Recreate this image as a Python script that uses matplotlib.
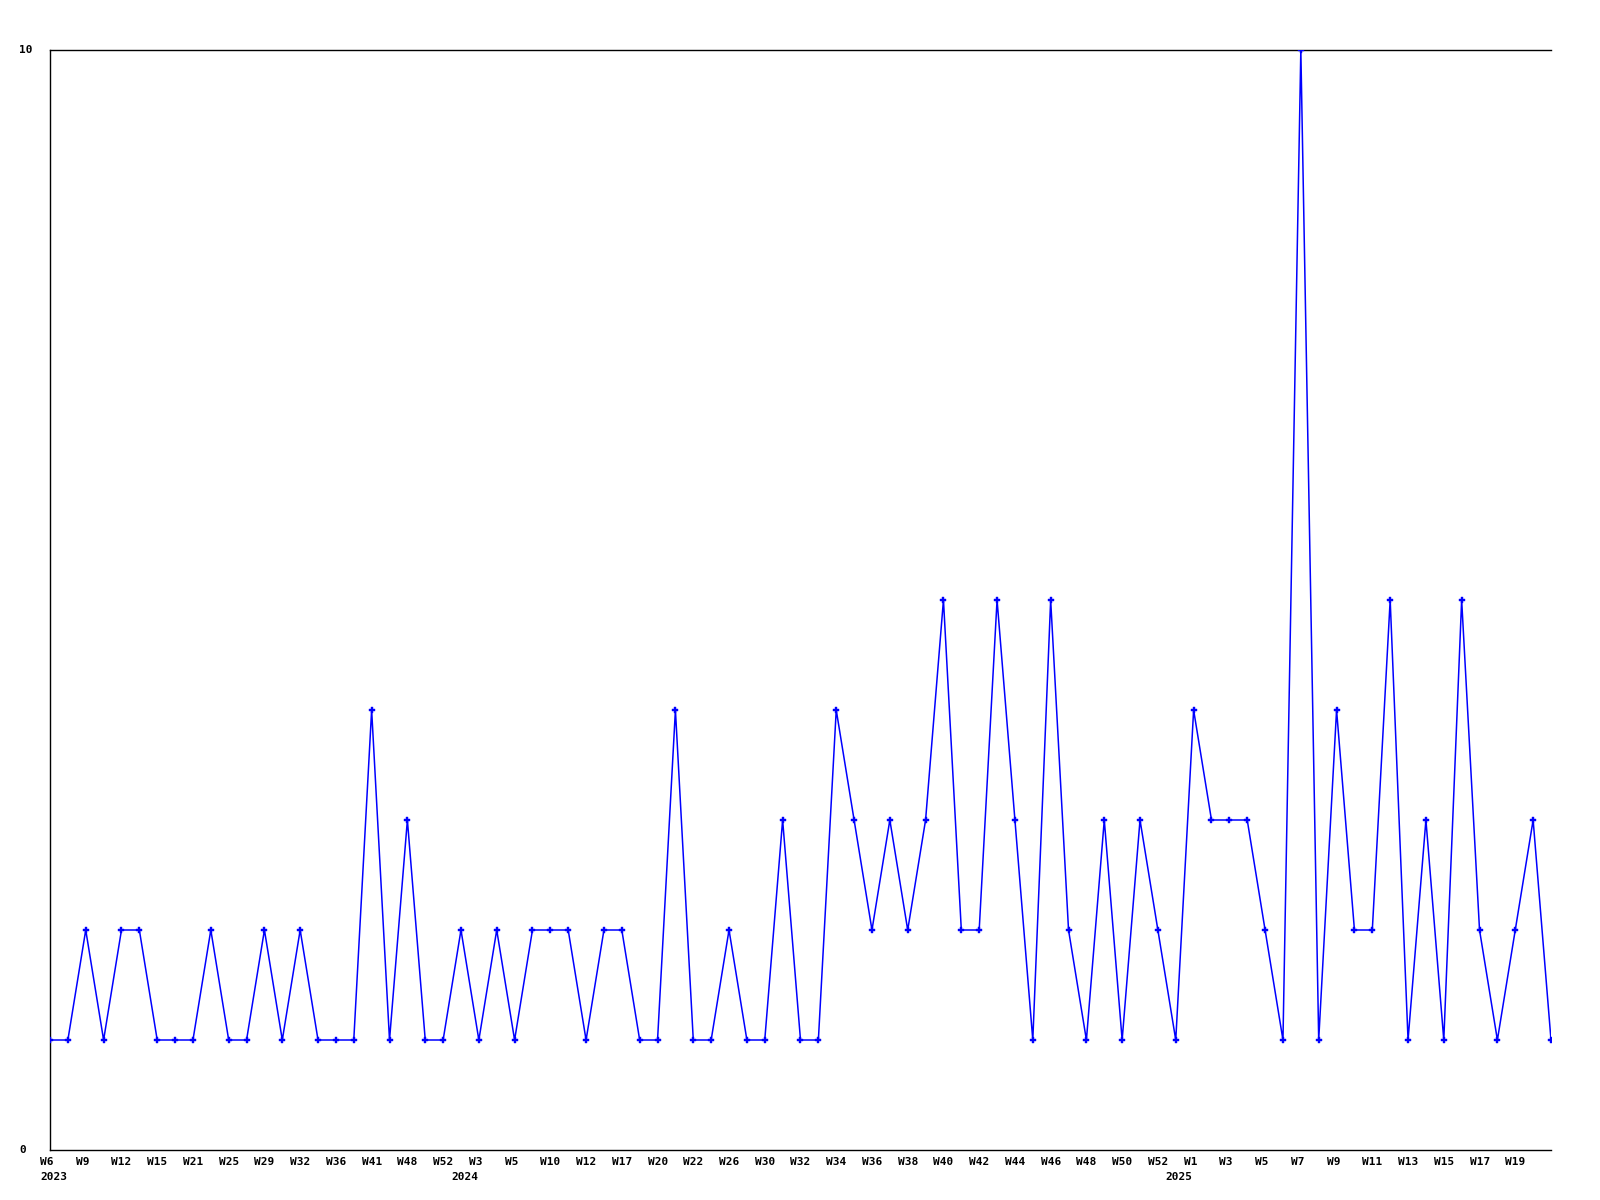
#!/usr/bin/env python3
"""Weekly counts chart, ordinal week axis."""

import matplotlib
matplotlib.use('Agg')
from matplotlib import pyplot as plot
from matplotlib.transforms import ScaledTranslation

# one value per week that had data (weeks with zero are skipped)
counts = [
    1, 1, 2, 1, 2, 2, 1, 1, 1, 2, 1, 1, 2, 1, 2, 1, 1, 1, 4, 1, 3,
    1, 1, 2, 1, 2, 1, 2, 2, 2, 1, 2, 2, 1, 1, 4, 1, 1, 2, 1, 1, 3, 1, 1,
    4, 3, 2, 3, 2, 3, 5, 2, 2, 5, 3, 1, 5, 2, 1, 3, 1, 3, 2, 1,
    4, 3, 3, 3, 2, 1, 10, 1, 4, 2, 2, 5, 1, 3, 1, 5, 2, 1, 2, 3, 1,
]

# labels shown on every second point (last point unlabeled)
week_labels = [
    'W6', 'W9', 'W12', 'W15', 'W21', 'W25', 'W29', 'W32', 'W36', 'W41', 'W48',
    'W52', 'W3', 'W5', 'W10', 'W12', 'W17', 'W20', 'W22', 'W26', 'W30', 'W32',
    'W34', 'W36', 'W38', 'W40', 'W42', 'W44', 'W46', 'W48', 'W50', 'W52',
    'W1', 'W3', 'W5', 'W7', 'W9', 'W11', 'W13', 'W15', 'W17', 'W19',
]
years = ['2023', '2024', '2025']
year_start = [0, 23, 63]   # index of first week of each year

FONT = dict(family='DejaVu Sans Mono', fontweight='bold', fontsize=8)

figure = plot.figure(figsize=(16, 12), dpi=100)
figure.set_facecolor('white')
ax = figure.add_axes([50 / 1600, 50 / 1200, 1501 / 1600, 1100 / 1200])

x = list(range(len(counts)))
ax.plot(x, counts, color='#0000ff', lw=1.1, marker='P', markersize=4.5,
        markeredgewidth=0.3, zorder=10)

ax.set_xlim(0, len(counts) - 1)
ax.set_ylim(0, 10)

for side in 'top', 'left', 'bottom':
    ax.spines[side].set_color('black')
    ax.spines[side].set_linewidth(1)
ax.spines['right'].set_visible(False)

shift_x = ScaledTranslation(-10 / 100, 0, figure.dpi_scale_trans)

ax.set_xticks(x[0:2 * len(week_labels):2])
ax.set_xticklabels(week_labels, ha='left', **FONT)
ax.tick_params(axis='x', length=0, pad=5)
for label in ax.get_xticklabels():
    label.set_transform(label.get_transform() + shift_x)

ax.set_yticks([0, 10])
ax.set_yticklabels(['0', '10'], ha='left', va='center', **FONT)
ax.tick_params(axis='y', length=0, pad=0)
shift_y = ScaledTranslation(-31 / 100, 0, figure.dpi_scale_trans)
for label in ax.get_yticklabels():
    label.set_transform(label.get_transform() + shift_y)

shift_year = ScaledTranslation(-10 / 100, -22 / 100, figure.dpi_scale_trans)
for year, idx in zip(years, year_start):
    ax.text(idx, 0, year, ha='left', va='top',
            transform=ax.get_xaxis_transform() + shift_year, **FONT)

figure.savefig('out.png', dpi=100, facecolor='white')
